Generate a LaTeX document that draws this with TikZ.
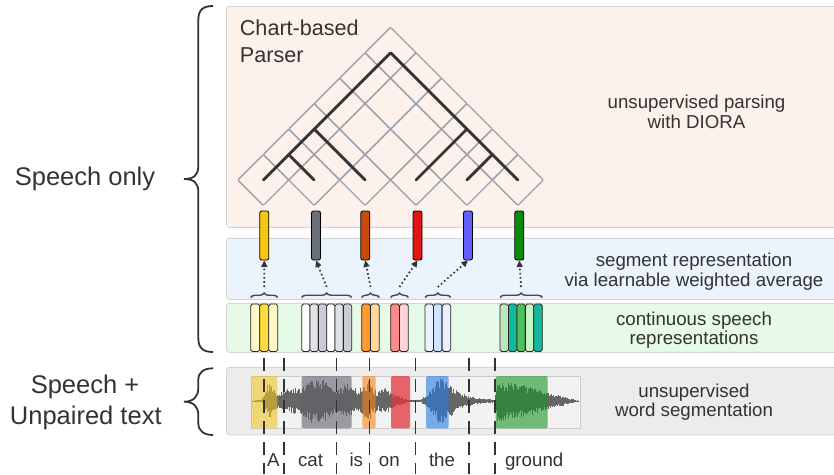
\documentclass[tikz,border=0pt]{standalone}
\usepackage{fontspec}
\setmainfont{Liberation Sans}
\usetikzlibrary{decorations.pathreplacing,arrows.meta}
\definecolor{txt}{HTML}{333333}
\definecolor{pinkbg}{HTML}{FDF1EC}
\definecolor{bluebg}{HTML}{EBF3FD}
\definecolor{greenbg}{HTML}{E7F9E7}
\definecolor{greybg}{HTML}{ECECEC}
\definecolor{pborder}{HTML}{D5D5D5}
\definecolor{gridc}{HTML}{9AA2AC}
\definecolor{wavec}{HTML}{666666}
% segment bar colours
\definecolor{sy}{HTML}{F7C614}
\definecolor{sg}{HTML}{6B7079}
\definecolor{so}{HTML}{C84B0A}
\definecolor{sr}{HTML}{E31414}
\definecolor{sb}{HTML}{6060FF}
\definecolor{sgr}{HTML}{0B8A0B}
% frame colours
\definecolor{fy1}{HTML}{FFF7C4}
\definecolor{fy2}{HTML}{FCDC3C}
\definecolor{fw}{HTML}{FFFFFF}
\definecolor{fg1}{HTML}{DFE2E6}
\definecolor{fg2}{HTML}{C9CDD3}
\definecolor{fo1}{HTML}{FF9A33}
\definecolor{fo2}{HTML}{FFD8A0}
\definecolor{fr1}{HTML}{FF8A8A}
\definecolor{fr2}{HTML}{FFD5D8}
\definecolor{fb1}{HTML}{EAF2FF}
\definecolor{fb2}{HTML}{CFE2FF}
\definecolor{fgr1}{HTML}{B8E8BC}
\definecolor{fgr2}{HTML}{14B89A}
\definecolor{fgr3}{HTML}{4DC15A}
\definecolor{fgr4}{HTML}{C8F4C8}
% overlay colours
\definecolor{oy}{HTML}{EEC626}
\definecolor{og}{HTML}{5F626C}
\definecolor{oo}{HTML}{F78419}
\definecolor{orr}{HTML}{E4333C}
\definecolor{ob}{HTML}{267AE4}
\definecolor{ogr}{HTML}{199626}
\begin{document}
\begin{tikzpicture}[x=1pt,y=-1pt,
  panel/.style={draw=pborder,line width=0.9pt,rounded corners=3pt},
  cell/.style={draw=gridc,line width=1.3pt,rounded corners=0.8pt},
  treeline/.style={draw=txt,line width=2.8pt,line cap=round,line join=round},
  segbar/.style={draw=black,line width=0.8pt,rounded corners=2pt,minimum width=9pt,minimum height=49pt,inner sep=0pt},
  frm/.style={draw=black!85,line width=0.8pt,rounded corners=1.8pt},
  lbl/.style={text=txt,font=\fontsize{18.7}{21}\selectfont,inner sep=0pt,anchor=base},
  biglbl/.style={text=txt,font=\fontsize{25.5}{32}\selectfont,inner sep=0pt,anchor=base},
  titlelbl/.style={text=txt,font=\fontsize{21.6}{26}\selectfont,inner sep=0pt,anchor=base west},
  bracedec/.style={decorate,decoration={brace,amplitude=4.5pt},draw=txt!90,line width=1.4pt},
  bigbrace/.style={draw=txt,line width=1.8pt},
  dotarrow/.style={draw=txt,line width=1.7pt,dash pattern=on 1.6pt off 2.6pt,-{Triangle[length=6.5pt,width=6pt]}},
  cut/.style={draw=txt,line width=1.5pt,dash pattern=on 13pt off 8pt},
  wave/.style={draw=wavec,line width=0.85pt},
  overlay/.style={rounded corners=2pt}
]
\useasboundingbox (0,0) rectangle (834,474);

% panels
\draw[panel,fill=pinkbg] (226.5,6.5) rectangle (838,227.3);
\draw[panel,fill=bluebg] (226.5,238.3) rectangle (838,299.3);
\draw[panel,fill=greenbg] (226.5,303.3) rectangle (838,352.3);
\draw[panel,fill=greybg] (226.5,367.3) rectangle (838,435);

% chart grid
\foreach \k in {0,...,5} {
  \pgfmathtruncatemacro\m{5-\k}
  \foreach \i in {0,...,\m} {
    \pgfmathsetmacro\cx{263.3+50.9*(\i+\k/2)}
    \pgfmathsetmacro\cy{180-25.45*\k}
    \draw[cell] (\cx-25.4,\cy) -- (\cx,\cy-25.4) -- (\cx+25.4,\cy) -- (\cx,\cy+25.4) -- cycle;
    \coordinate (c-\k-\i) at (\cx,\cy);
  }
}
% tree
\draw[treeline] (c-0-0) -- (c-5-0) -- (c-0-5);
\draw[treeline] (c-1-0) -- (c-0-1);
\draw[treeline] (c-2-0) -- (c-0-2);
\draw[treeline] (c-2-3) -- (c-0-3);
\draw[treeline] (c-1-4) -- (c-0-4);

\node[titlelbl] (t1) at (239.7,35.7) {Chart-based};
\node[titlelbl] (t2) at (239.7,62.3) {Parser};

% right labels
\node[lbl] (r1a) at (696.5,108) {unsupervised parsing};
\node[lbl] (r1b) at (696.5,128.5) {with DIORA};
\node[lbl] (r2a) at (694,266.5) {segment representation};
\node[lbl] (r2b) at (694,286.5) {via learnable weighted average};
\node[lbl] (r3a) at (694,325) {continuous speech};
\node[lbl] (r3b) at (694,344.5) {representations};
\node[lbl] (r4a) at (694,397.3) {unsupervised};
\node[lbl] (r4b) at (694,416.7) {word segmentation};

% segment bars
\node[segbar,fill=sy]  (s1) at (264.3,235.5) {};
\node[segbar,fill=sg]  (s2) at (316,235.5) {};
\node[segbar,fill=so]  (s3) at (365.3,235.5) {};
\node[segbar,fill=sr]  (s4) at (417.5,235.5) {};
\node[segbar,fill=sb]  (s5) at (468,235.5) {};
\node[segbar,fill=sgr] (s6) at (519.3,235.5) {};

% frame bars
\foreach \c [count=\j from 0] in {fy1,fy2,fy1}
  \draw[frm,fill=\c] (250.7+9*\j,304) rectangle ++(9,47.5);
\foreach \c [count=\j from 0] in {fw,fg1,fg2,fw,fg1,fg2}
  \draw[frm,fill=\c] (301.7+8.33*\j,304) rectangle ++(8.33,47.5);
\foreach \c [count=\j from 0] in {fo1,fo2}
  \draw[frm,fill=\c] (361.7+8.8*\j,304) rectangle ++(8.8,47.5);
\foreach \c [count=\j from 0] in {fr1,fr2}
  \draw[frm,fill=\c] (390.7+8.8*\j,304) rectangle ++(8.8,47.5);
\foreach \c [count=\j from 0] in {fb1,fb2,fb1}
  \draw[frm,fill=\c] (425+8.57*\j,304) rectangle ++(8.57,47.5);
\foreach \c [count=\j from 0] in {fgr1,fgr2,fgr3,fgr4,fgr2}
  \draw[frm,fill=\c] (500+8.46*\j,304) rectangle ++(8.46,47.5);

% braces over frame groups
\coordinate (g1l) at (250.7,297.5); \coordinate (g1r) at (277.7,297.5);
\coordinate (g2l) at (301.7,297.5); \coordinate (g2r) at (351.7,297.5);
\coordinate (g3l) at (361.7,297.5); \coordinate (g3r) at (379.3,297.5);
\coordinate (g4l) at (390.7,297.5); \coordinate (g4r) at (408.3,297.5);
\coordinate (g5l) at (425,297.5);   \coordinate (g5r) at (450.7,297.5);
\coordinate (g6l) at (500,297.5);   \coordinate (g6r) at (542.3,297.5);
\foreach \g in {1,...,6}
  \draw[bracedec] (g\g l) -- (g\g r);

% dotted arrows
\coordinate (a1) at (264.2,287);
\coordinate (a2) at (326.7,287);
\coordinate (a3) at (370.5,287);
\coordinate (a4) at (399.5,287);
\coordinate (a5) at (437.8,287);
\coordinate (a6) at (521.1,287);
\foreach \g in {1,...,6}
  \draw[dotarrow] (a\g) -- (s\g.south);

% waveform box
\draw[fill=white!95!black,draw=black!20,line width=0.8pt] (251,376) rectangle (580.7,428.3);
\pgfmathsetseed{11}
\draw[wave,line width=0.6pt] (252,401) -- (579,401);
\foreach \xa/\aa/\xb/\ab in {252/0.6/262/1.2, 262/1.2/269/20, 269/20/277/7, 277/7/285/12, 285/12/300/13, 300/13/310/22, 310/22/325/21, 325/21/337/11, 337/11/347/18, 347/18/358/11, 358/11/368/21, 368/21/377/9, 377/9/385/13, 385/13/392/8, 392/8/410/1, 410/1/420/1.5, 420/1.5/427/6, 427/6/440/25, 440/25/460/8, 460/8/477/3, 477/3/495/1.5, 495/1.5/497/21, 497/21/530/15, 530/15/548/9, 548/9/578/0.5} {
  \pgfmathtruncatemacro\n{(\xb-\xa)/0.7}
  \foreach \k in {0,...,\n} {
    \pgfmathsetmacro\xx{\xa+(\xb-\xa)*\k/(\n+1)}
    \pgfmathsetmacro\am{\aa+(\ab-\aa)*\k/(\n+1)}
    \pgfmathsetmacro\up{\am*(0.5+0.5*rnd)}
    \pgfmathsetmacro\dn{\am*(0.5+0.5*rnd)}
    \draw[wave] (\xx,401-\up) -- (\xx,401+\dn);
  }
}
% coloured word overlays
\fill[overlay,oy,opacity=0.6]  (251,376) rectangle (277.3,428.3);
\fill[overlay,og,opacity=0.6]  (301.7,376) rectangle (351.7,428.3);
\fill[overlay,oo,opacity=0.6]  (362.3,376) rectangle (375.7,428.3);
\fill[overlay,orr,opacity=0.75] (391,376) rectangle (410,428.3);
\fill[overlay,ob,opacity=0.6]  (426,376) rectangle (448.7,428.3);
\fill[overlay,ogr,opacity=0.6] (495.7,376) rectangle (547.7,428.3);

% word boundaries
\foreach \x [count=\j] in {264,284,336.7,369.3,415.7,469,495} {
  \coordinate (d\j t) at (\x,358);
  \coordinate (d\j b) at (\x,474);
  \draw[cut] (d\j t) -- (d\j b);
}

% words
\node[lbl] (w1) at (273.3,466) {A};
\node[lbl] (w2) at (310.5,466) {cat};
\node[lbl] (w3) at (356.3,466) {is};
\node[lbl] (w4) at (389.3,466) {on};
\node[lbl] (w5) at (442,466) {the};
\node[lbl] (w6) at (534.2,466) {ground};

% left braces
\draw[bigbrace] (213,6) .. controls (203,6) and (198.3,10) .. (198.3,20) -- (198.3,166)
  .. controls (198.3,175) and (194,179) .. (184,179)
  .. controls (194,179) and (198.3,183) .. (198.3,192) -- (198.3,338)
  .. controls (198.3,348) and (203,352) .. (213,352);
\draw[bigbrace] (213,368.3) .. controls (204,368.3) and (198.3,372) .. (198.3,380) -- (198.3,388)
  .. controls (198.3,396) and (194,401.7) .. (184,401.7)
  .. controls (194,401.7) and (198.3,407) .. (198.3,415) -- (198.3,423)
  .. controls (198.3,431) and (204,435) .. (213,435);

% left labels
\node[biglbl] (l1) at (85,185.7) {Speech only};
\node[biglbl] (l2) at (85,393.3) {Speech +};
\node[biglbl] (l3) at (85.8,424) {Unpaired text};
\end{tikzpicture}
\end{document}
